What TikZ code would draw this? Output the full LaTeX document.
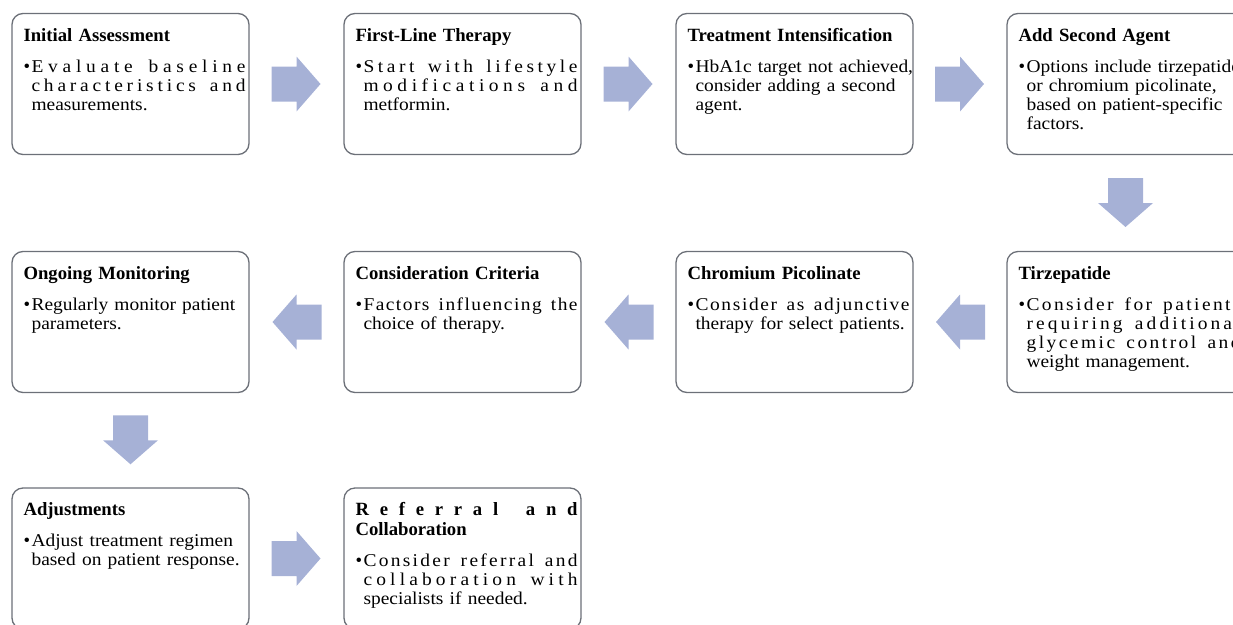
\documentclass[tikz,border=0pt]{standalone}
\usepackage{fontspec}
\setmainfont{Liberation Serif}
\newfontfamily\widefont[FakeStretch=1.08]{Liberation Serif}
\usetikzlibrary{calc}

\definecolor{cardline}{RGB}{108,112,120}
\definecolor{flowblue}{RGB}{166,177,214}

\newlength{\bodywd}
\setlength{\bodywd}{214pt}

% stretch a line letter by letter to a given width
\ExplSyntaxOn
\NewDocumentCommand\spread{O{\bodywd}m}{\makebox[#1][s]{\str_map_inline:nn{#2}{##1\hfil}\unskip}}
\ExplSyntaxOff

\newcommand{\cardbody}[2]{\textbf{#1}\par\vspace{11pt}%
  \makebox[8pt][l]{\textbullet}\parbox[t]{300pt}{\widefont\fontsize{18}{19}\selectfont #2}}

\begin{document}
\begin{tikzpicture}[x=1pt,y=1pt,
  card/.style={draw=cardline,line width=1.3pt,rounded corners=11pt,fill=white,minimum width=237pt,minimum height=141pt,inner sep=0pt},
  cardtext/.style={anchor=north west,inner sep=0pt,xshift=12pt,yshift=-15pt,text width=320pt,align=left,font=\fontsize{18.7}{20}\selectfont},
  flowarrow/.pic={\fill[flowblue] (-25,-17.5) -- (0,-17.5) -- (0,-27.5) -- (24,0) -- (0,27.5) -- (0,17.5) -- (-25,17.5) -- cycle;}]

\useasboundingbox (0,0) rectangle (1233,-624);
\clip (0,0) rectangle (1233,-624);

% first row
\node[card] (assess) at (130.5,-84) {};
\node[cardtext] (assess-t) at (assess.north west) {\cardbody{Initial Assessment}{\spread{Evaluate baseline}\\\spread{characteristics and}\\measurements.}};

\node[card] (firstline) at (462.5,-84) {};
\node[cardtext] (firstline-t) at (firstline.north west) {\cardbody{First-Line Therapy}{\spread{Start with lifestyle}\\\spread{modifications and}\\metformin.}};

\node[card] (intens) at (794.5,-84) {};
\node[cardtext] (intens-t) at (intens.north west) {\cardbody{Treatment Intensification}{HbA1c target not achieved,\\consider adding a second\\agent.}};

\node[card] (second) at (1125.5,-84) {};
\node[cardtext] (second-t) at (second.north west) {\cardbody{Add Second Agent}{Options include tirzepatide\\or chromium picolinate,\\based on patient-specific\\factors.}};

% second row
\node[card] (tirz) at (1125.5,-322) {};
\node[cardtext] (tirz-t) at (tirz.north west) {\cardbody{Tirzepatide}{\spread{Consider for patients}\\\spread{requiring additional}\\\spread{glycemic control and}\\weight management.}};

\node[card] (chrom) at (794.5,-322) {};
\node[cardtext] (chrom-t) at (chrom.north west) {\cardbody{Chromium Picolinate}{\spread{Consider as adjunctive}\\therapy for select patients.}};

\node[card] (criteria) at (462.5,-322) {};
\node[cardtext] (criteria-t) at (criteria.north west) {\cardbody{Consideration Criteria}{\spread{Factors influencing the}\\choice of therapy.}};

\node[card] (monitor) at (130.5,-322) {};
\node[cardtext] (monitor-t) at (monitor.north west) {\cardbody{Ongoing Monitoring}{Regularly monitor patient\\parameters.}};

% third row
\node[card] (adjust) at (130.5,-558.5) {};
\node[cardtext] (adjust-t) at (adjust.north west) {\cardbody{Adjustments}{Adjust treatment regimen\\based on patient response.}};

\node[card] (referral) at (462.5,-558.5) {};
\node[cardtext] (referral-t) at (referral.north west) {\cardbody{\spread[222pt]{Referral and}\\Collaboration}{\spread{Consider referral and}\\\spread{collaboration with}\\specialists if needed.}};

% block arrows
\pic (f1) at ($(assess.east)!0.5!(firstline.west)$) {flowarrow};
\pic (f2) at ($(firstline.east)!0.5!(intens.west)$) {flowarrow};
\pic (f3) at ($(intens.east)!0.5!(second.west)$) {flowarrow};
\pic[rotate=270] (f4) at ($(second.south)!0.5!(tirz.north)$) {flowarrow};
\pic[rotate=180] (f5) at ($(tirz.west)!0.5!(chrom.east)$) {flowarrow};
\pic[rotate=180] (f6) at ($(chrom.west)!0.5!(criteria.east)$) {flowarrow};
\pic[rotate=180] (f7) at ($(criteria.west)!0.5!(monitor.east)$) {flowarrow};
\pic[rotate=270] (f8) at ($(monitor.south)!0.5!(adjust.north)$) {flowarrow};
\pic (f9) at ($(adjust.east)!0.5!(referral.west)$) {flowarrow};

\end{tikzpicture}
\end{document}
